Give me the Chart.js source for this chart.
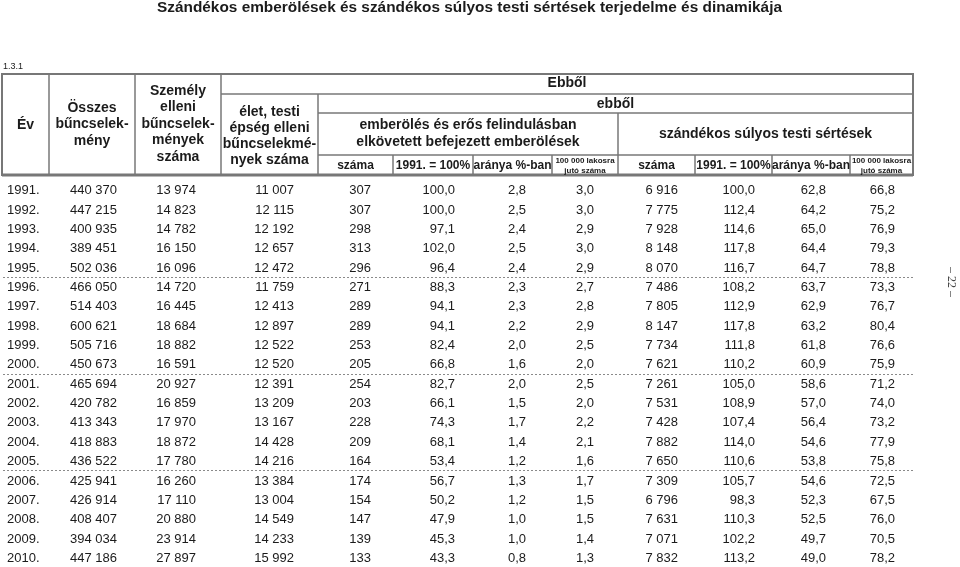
<!DOCTYPE html>
<html lang="hu">
<head>
<meta charset="utf-8">
<title>Szándékos emberölések és szándékos súlyos testi sértések</title>
<script src="https://cdn.jsdelivr.net/npm/chart.js@4.4.1/dist/chart.umd.min.js"></script>
<style>
  html, body { margin: 0; padding: 0; background: #fff; }
  #wrap { width: 960px; height: 567px; }
</style>
</head>
<body>
<div id="wrap"><canvas id="table-chart" width="960" height="567"></canvas></div>
<script>
const years = ['1991.', '1992.', '1993.', '1994.', '1995.', '1996.', '1997.', '1998.', '1999.', '2000.',
  '2001.', '2002.', '2003.', '2004.', '2005.', '2006.', '2007.', '2008.', '2009.', '2010.'];
const osszes = [440370, 447215, 400935, 389451, 502036, 466050, 514403, 600621, 505716, 450673,
  465694, 420782, 413343, 418883, 436522, 425941, 426914, 408407, 394034, 447186];
const szemelyElleni = [13974, 14823, 14782, 16150, 16096, 14720, 16445, 18684, 18882, 16591,
  20927, 16859, 17970, 18872, 17780, 16260, 17110, 20880, 23914, 27897];
const eletTesti = [11007, 12115, 12192, 12657, 12472, 11759, 12413, 12897, 12522, 12520,
  12391, 13209, 13167, 14428, 14216, 13384, 13004, 14549, 14233, 15992];
const emberSzama = [307, 307, 298, 313, 296, 271, 289, 289, 253, 205,
  254, 203, 228, 209, 164, 174, 154, 147, 139, 133];
const emberIndex = [100.0, 100.0, 97.1, 102.0, 96.4, 88.3, 94.1, 94.1, 82.4, 66.8,
  82.7, 66.1, 74.3, 68.1, 53.4, 56.7, 50.2, 47.9, 45.3, 43.3];
const emberArany = [2.8, 2.5, 2.4, 2.5, 2.4, 2.3, 2.3, 2.2, 2.0, 1.6,
  2.0, 1.5, 1.7, 1.4, 1.2, 1.3, 1.2, 1.0, 1.0, 0.8];
const emberLakos = [3.0, 3.0, 2.9, 3.0, 2.9, 2.7, 2.8, 2.9, 2.5, 2.0,
  2.5, 2.0, 2.2, 2.1, 1.6, 1.7, 1.5, 1.5, 1.4, 1.3];
const sulyosSzama = [6916, 7775, 7928, 8148, 8070, 7486, 7805, 8147, 7734, 7621,
  7261, 7531, 7428, 7882, 7650, 7309, 6796, 7631, 7071, 7832];
const sulyosIndex = [100.0, 112.4, 114.6, 117.8, 116.7, 108.2, 112.9, 117.8, 111.8, 110.2,
  105.0, 108.9, 107.4, 114.0, 110.6, 105.7, 98.3, 110.3, 102.2, 113.2];
const sulyosArany = [62.8, 64.2, 65.0, 64.4, 64.7, 63.7, 62.9, 63.2, 61.8, 60.9,
  58.6, 57.0, 56.4, 54.6, 53.8, 54.6, 52.3, 52.5, 49.7, 49.0];
const sulyosLakos = [66.8, 75.2, 76.9, 79.3, 78.8, 73.3, 76.7, 80.4, 76.6, 75.9,
  71.2, 74.0, 73.2, 77.9, 75.8, 72.5, 67.5, 76.0, 70.5, 78.2];

// Texts
const title = 'Szándékos emberölések és szándékos súlyos testi sértések terjedelme és dinamikája';
const tableNo = '1.3.1';
const pageNo = '– 22 –';

// Layout: column edges on the x scale, header rows in pixels
const colEdges = [2, 49, 135, 221, 318, 393, 473, 552, 618, 695, 772, 850, 913];
const colRight = [null, 117, 196, 294, 371, 455, 526, 594, 678, 755, 826, 895];
const headTop = 74, headR1 = 94, headR2 = 113, headR3 = 155, headBottom = 175;

const columns = [
  { values: osszes, dec: 0 },
  { values: szemelyElleni, dec: 0 },
  { values: eletTesti, dec: 0 },
  { values: emberSzama, dec: 0 },
  { values: emberIndex, dec: 1 },
  { values: emberArany, dec: 1 },
  { values: emberLakos, dec: 1 },
  { values: sulyosSzama, dec: 0 },
  { values: sulyosIndex, dec: 1 },
  { values: sulyosArany, dec: 1 },
  { values: sulyosLakos, dec: 1 }
];

const SANS = '"Liberation Sans", Arial, sans-serif';
const LINE = '#777';
const INK = '#1b1b1b';

// Hungarian number format: space thousands, comma decimals
function fmt(v, dec) {
  const parts = v.toFixed(dec).split('.');
  parts[0] = parts[0].replace(/\B(?=(\d{3})+(?!\d))/g, ' ');
  return parts.join(',');
}

function line(ctx, x1, y1, x2, y2, w) {
  ctx.lineWidth = w || 1;
  ctx.beginPath();
  ctx.moveTo(x1, y1);
  ctx.lineTo(x2, y2);
  ctx.stroke();
}

function lines(ctx, arr, cx, y0, step, font) {
  ctx.font = font;
  arr.forEach((s, i) => ctx.fillText(s, cx, y0 + i * step));
}

const tablePlugin = {
  id: 'tablePlugin',
  afterDraw(chart) {
    const ctx = chart.ctx;
    const xs = chart.scales.x;
    const ys = chart.scales.y;
    const X = v => xs.getPixelForValue(v);
    const mid = (a, b) => (X(colEdges[a]) + X(colEdges[b])) / 2;

    ctx.save();
    ctx.fillStyle = INK;
    ctx.textBaseline = 'middle';

    // title (condensed bold)
    ctx.font = 'bold 15px "Liberation Sans Narrow", ' + SANS;
    ctx.textAlign = 'left';
    const tw = ctx.measureText(title).width;
    const target = 625;
    ctx.save();
    ctx.translate(157, 8);
    ctx.scale(target / tw, 1);
    ctx.fillText(title, 0, 0);
    ctx.restore();

    // table number
    ctx.font = '9px ' + SANS;
    ctx.fillText(tableNo, 3, 67);

    // header frame
    ctx.strokeStyle = LINE;
    ctx.lineWidth = 2;
    ctx.strokeRect(X(colEdges[0]), headTop, X(colEdges[12]) - X(colEdges[0]), headBottom - headTop);
    line(ctx, X(colEdges[0]), headBottom, X(colEdges[12]), headBottom, 3);
    [1, 2, 3].forEach(i => line(ctx, X(colEdges[i]), headTop, X(colEdges[i]), headBottom, 1.5));
    line(ctx, X(colEdges[3]), headR1, X(colEdges[12]), headR1, 1.5);
    line(ctx, X(colEdges[4]), headR2, X(colEdges[12]), headR2, 1.5);
    line(ctx, X(colEdges[4]), headR3, X(colEdges[12]), headR3, 1.5);
    line(ctx, X(colEdges[4]), headR1, X(colEdges[4]), headBottom, 1.5);
    line(ctx, X(colEdges[8]), headR2, X(colEdges[8]), headBottom, 1.5);
    [5, 6, 7, 9, 10, 11].forEach(i => line(ctx, X(colEdges[i]), headR3, X(colEdges[i]), headBottom, 1.5));

    // header text
    ctx.textAlign = 'center';
    const hb = 'bold 14px ' + SANS;
    lines(ctx, ['Év'], mid(0, 1), 125, 16.5, hb);
    lines(ctx, ['Összes', 'bűncselek-', 'mény'], mid(1, 2), 108, 16.5, hb);
    lines(ctx, ['Személy', 'elleni', 'bűncselek-', 'mények', 'száma'], mid(2, 3), 91, 16.5, hb);
    lines(ctx, ['élet, testi', 'épség elleni', 'bűncselekmé-', 'nyek száma'], mid(3, 4), 112, 16, hb);
    lines(ctx, ['Ebből'], mid(3, 12), 83, 16, hb);
    lines(ctx, ['ebből'], mid(4, 12), 104, 16, hb);
    lines(ctx, ['emberölés és erős felindulásban', 'elkövetett befejezett emberölések'], mid(4, 8), 125, 17, hb);
    lines(ctx, ['szándékos súlyos testi sértések'], mid(8, 12), 134, 16, hb);
    const sub = 'bold 12px ' + SANS;
    const small = 'bold 8px ' + SANS;
    [4, 8].forEach(s => {
      lines(ctx, ['száma'], mid(s, s + 1), 165.5, 0, sub);
      lines(ctx, ['1991. = 100%'], mid(s + 1, s + 2), 165.5, 0, sub);
      lines(ctx, ['aránya %-ban'], mid(s + 2, s + 3), 165.5, 0, sub);
      lines(ctx, ['100 000 lakosra', 'jutó száma'], mid(s + 3, s + 4), 161, 9.5, small);
    });

    // body: year labels from the y scale, cells from dataset points
    ctx.font = '13px ' + SANS;
    ctx.textAlign = 'left';
    years.forEach((y, i) => ctx.fillText(y, 7, ys.getPixelForValue(i) + 1));
    ctx.textAlign = 'right';
    chart.data.datasets.forEach((ds, di) => {
      const meta = chart.getDatasetMeta(di);
      meta.data.forEach((pt, i) => {
        ctx.fillText(fmt(columns[di].values[i], columns[di].dec), pt.x, pt.y + 1);
      });
    });

    // dashed separators every five years
    ctx.strokeStyle = '#8a8a8a';
    ctx.setLineDash([2, 2]);
    [4, 9, 14].forEach(i => {
      const y = Math.round((ys.getPixelForValue(i) + ys.getPixelForValue(i + 1)) / 2) + 0.5;
      line(ctx, X(3), y, X(colEdges[12]), y, 1);
    });
    ctx.setLineDash([]);

    // page number on the right margin
    ctx.save();
    ctx.translate(951, 282);
    ctx.rotate(Math.PI / 2);
    ctx.textAlign = 'center';
    ctx.fillStyle = '#444';
    ctx.font = '12px "Liberation Serif", serif';
    ctx.fillText(pageNo, 0, 0);
    ctx.restore();

    ctx.restore();
  }
};

const ctx = document.getElementById('table-chart').getContext('2d');
const tableChart = new Chart(ctx, {
  type: 'scatter',
  data: {
    datasets: columns.map((c, ci) => ({
      data: c.values.map((v, i) => ({ x: colRight[ci + 1], y: i })),
      pointRadius: 0,
      pointHoverRadius: 0
    }))
  },
  options: {
    responsive: false,
    animation: false,
    devicePixelRatio: 1,
    layout: { padding: { top: 180, left: 0, right: 47, bottom: 0 } },
    scales: {
      x: { type: 'linear', min: 0, max: 913, display: false },
      y: { type: 'category', labels: years, offset: true, display: false }
    },
    plugins: {
      legend: { display: false },
      tooltip: { enabled: false },
      title: { display: false }
    },
    events: []
  },
  plugins: [tablePlugin]
});
</script>
</body>
</html>
